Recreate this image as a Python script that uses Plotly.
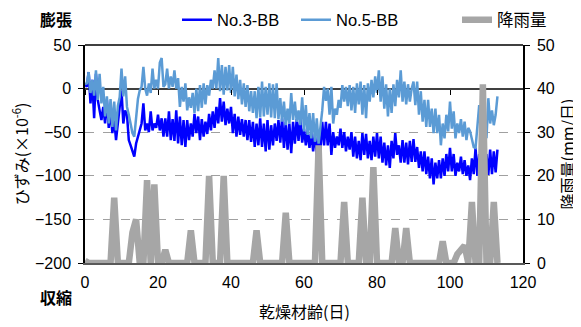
import numpy as np
import plotly.graph_objects as go

# ---- data ----
# strain (x10^-6), sampled every half day starting at day 0
no3_bb = [5, 2, 19, -17, 10, -34, 17, -13, -25, -36, -21, -40, -13, -45, -25, -51, -35, -59, -40, -17,
          -2, -40, -25, -30, -59, -65, -72, -78, -63, -55, -46, -40, -17, -48, -40, -50, -26, -48, -40, -45,
          -30, -48, -34, -55, -34, -55, -26, -59, -35, -60, -25, -63, -32, -65, -36, -67, -36, -59, -40, -55,
          -29, -51, -32, -59, -35, -55, -38, -52, -29, -48, -26, -45, -21, -40, -11, -38, -15, -42, -23, -40,
          -21, -51, -29, -55, -32, -53, -35, -55, -36, -59, -36, -61, -38, -67, -40, -65, -34, -67, -40, -72,
          -36, -70, -42, -65, -40, -60, -36, -62, -34, -68, -38, -70, -40, -74, -38, -63, -35, -60, -34, -62,
          -46, -65, -48, -68, -50, -72, -52, -76, -55, -70, -38, -65, -38, -65, -40, -76, -50, -68, -55, -65,
          -46, -68, -50, -72, -55, -70, -50, -78, -55, -80, -60, -82, -51, -76, -52, -80, -60, -82, -55, -78,
          -51, -80, -55, -85, -62, -88, -65, -91, -60, -80, -51, -76, -65, -85, -59, -85, -62, -87, -60, -84,
          -58, -84, -67, -91, -72, -95, -72, -98, -78, -103, -80, -110, -85, -103, -82, -103, -80, -100, -75, -95,
          -68, -95, -75, -100, -85, -95, -78, -98, -82, -100, -88, -105, -80, -98, -68, -100, -75, -100, -72, -98,
          -75, -99, -70, -98, -72, -96, -70]
no5_bb = [5, 6, 19, -5, 10, -8, 21, -13, 17, -17, 2, -32, -9, -40, -12, -44, -15, -48, -20, -10,
          23, -9, 14, -21, -30, -42, -51, -55, -35, -12, -2, 2, 25, 0, -8, 6, -5, 23, 0, 10,
          0, 30, 35, 2, 5, 23, 0, 14, 2, 21, 0, 12, -21, 2, -15, 6, -25, -10, -22, -5,
          -28, 0, -26, 4, -22, 6, -18, 4, -8, 10, 0, 21, 0, 35, -3, 27, -7, 25, -2, 27,
          -5, 25, -9, 16, -12, 10, -18, 6, -21, 4, -26, -3, -28, -3, -34, 2, -33, 8, -32, 2,
          -30, 6, -33, 5, -34, 6, -35, -11, -38, -15, -42, -23, -40, -5, -36, -15, -38, -25, -42, -10,
          -49, -19, -53, -28, -57, -28, -61, -34, -63, -45, -25, 2, -14, 0, -30, 2, -40, -23, -30, -13,
          -22, 4, -15, 2, -20, 4, -25, 2, -28, 6, -18, 8, -30, 4, -34, 6, -15, 10, -10, 14,
          -5, 21, -15, 14, -23, 5, -32, 0, -28, 5, -20, 10, -10, 21, -15, 8, -18, 5, -15, 0,
          8, -19, 8, -30, -3, -38, -13, -44, -13, -44, -23, -51, -23, -51, -30, -65, -40, -57, -30, -49,
          -15, -46, -26, -57, -40, -51, -35, -55, -38, -59, -45, -49, -60, -67, -68, -42, -19, -42, -26, -45,
          -57, -11, -40, -25, -42, -30, -9]
# daily rainfall (mm/day), day 0 .. 113
rain = [0.5, 0, 0, 0, 0, 0, 0, 0, 15, 0, 0, 0, 0, 7, 10, 0, 0, 19, 0, 18,
        0, 0, 3, 0, 0, 0, 0, 0, 0, 7.5, 0, 0, 0, 0, 20, 0, 0, 0, 20, 0,
        0, 0, 0, 0, 0, 0, 0, 7.5, 0, 0, 0, 0, 0, 0, 0, 11.5, 0, 0, 0, 0,
        0, 0, 0, 0, 27, 0, 0, 0, 0, 0, 0, 14, 0, 0, 0, 0, 15, 0, 0, 22,
        0, 0, 0, 0, 0, 8, 0, 0, 8, 0, 0, 0, 0, 0, 0, 0, 0, 0, 5, 0,
        0, 0, 2, 3, 4, 0, 14, 0, 0, 41, 0, 0, 14, 0]

strain_days = np.arange(len(no3_bb)) * 0.5
rain_days = np.arange(len(rain))

x_ticks = [0, 20, 40, 60, 80, 100, 120]
y_ticks = [-200, -150, -100, -50, 0, 50]
y2_ticks = [0, 10, 20, 30, 40, 50]

FONT = "Liberation Sans, Arial, Noto Sans CJK JP, sans-serif"
JP = "Noto Sans CJK JP, sans-serif"

fig = go.Figure()
fig.add_trace(go.Scatter(x=rain_days, y=rain, name="降雨量", mode="lines",
                         line=dict(color="#a6a6a6", width=6.5), xaxis="x2", yaxis="y2",
                         legend="legend3"))
fig.add_trace(go.Scatter(x=strain_days, y=no3_bb, name="No.3-BB", mode="lines",
                         line=dict(color="#0000ff", width=2.5), legend="legend"))
fig.add_trace(go.Scatter(x=strain_days, y=no5_bb, name="No.5-BB", mode="lines",
                         line=dict(color="#5b9bd5", width=2.5), legend="legend2"))

# page body adds an 8px offset; the figure is sized so the plot lands where the reference has it
OFF = 8
W, H = 581, 327
L, R, T, B = 85, 58, 45, 64
pw, ph = W - L - R, H - T - B

def px(xp):
    return (xp - L) / pw

def py(yp):
    return (H - B - yp) / ph

legend_common = dict(orientation="h", yanchor="middle", xanchor="left", y=py(20),
                     font=dict(family=FONT, size=16.5, color="#000"), bgcolor="rgba(0,0,0,0)",
                     itemwidth=30, tracegroupgap=0)

fig.update_layout(
    width=W - OFF, height=H - OFF,
    margin=dict(l=L - OFF, r=R, t=T - OFF, b=B, autoexpand=False),
    paper_bgcolor="white", plot_bgcolor="white",
    showlegend=True,
    legend=dict(legend_common, x=px(177)),
    legend2=dict(legend_common, x=px(296)),
    legend3=dict(legend_common, x=px(457)),
    xaxis=dict(range=[0, 120], tickvals=x_ticks, showgrid=False, zeroline=False,
               showline=True, linecolor="#595959", linewidth=1.5, ticks="",
               ticklabelstandoff=4,
               tickfont=dict(family=FONT, size=16, color="#000"),
               mirror=False),
    xaxis2=dict(range=[0, 120], tickvals=x_ticks, overlaying="x", anchor="free",
                position=(0 - (-200)) / 250, showgrid=False, zeroline=False, showline=False,
                ticks="outside", ticklen=5, tickcolor="#000", showticklabels=False),
    yaxis=dict(range=[-200, 50], tickvals=y_ticks, showgrid=True,
               gridcolor="#a0a0a0", griddash="dash", gridwidth=1,
               zeroline=True, zerolinecolor="#404040", zerolinewidth=1.5,
               showline=True, linecolor="#000", linewidth=1.5, mirror=False,
               ticks="outside", ticklen=5, tickcolor="#000", ticklabelstandoff=4,
               tickfont=dict(family=FONT, size=16, color="#000"),
               title=dict(text="ひずみ(×10<sup>-6</sup>)", font=dict(family=JP, size=16, color="#000"),
                          standoff=6)),
    yaxis2=dict(range=[0, 50], tickvals=y2_ticks, overlaying="y", side="right", anchor="x",
                showgrid=False, zeroline=False, showline=True, linecolor="#000", linewidth=1.5,
                ticks="outside", ticklen=5, tickcolor="#000", ticklabelstandoff=4,
                tickfont=dict(family=FONT, size=16, color="#000"),
                title=dict(text="降雨量(mm/日)", font=dict(family=JP, size=16, color="#000"),
                           standoff=6)),
)

# top border of plot area
fig.add_shape(type="line", xref="paper", yref="paper", x0=0, x1=1, y0=1, y1=1,
              line=dict(color="#000", width=1.5))

fig.add_annotation(text="乾燥材齢(日)", xref="paper", yref="paper", x=0.5, y=py(311),
                   xanchor="center", yanchor="middle", showarrow=False,
                   font=dict(family=JP, size=16, color="#000"))
fig.add_annotation(text="<b>膨張</b>", xref="paper", yref="paper", x=px(56), y=py(19),
                   xanchor="center", yanchor="middle", showarrow=False,
                   font=dict(family=JP, size=16, color="#000"))
fig.add_annotation(text="<b>収縮</b>", xref="paper", yref="paper", x=px(56), y=py(297),
                   xanchor="center", yanchor="middle", showarrow=False,
                   font=dict(family=JP, size=16, color="#000"))

fig.write_html("out.html")
